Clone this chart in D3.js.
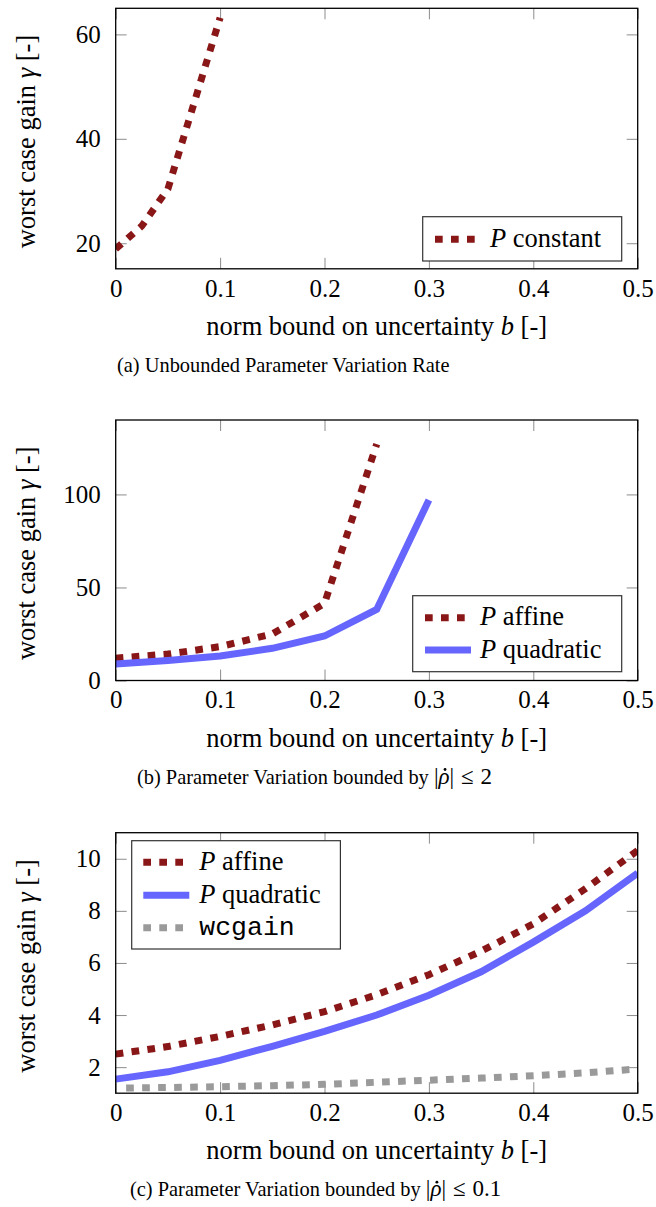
<!DOCTYPE html>
<html>
<head>
<meta charset="utf-8">
<script src="https://d3js.org/d3.v7.min.js"></script>
<style>
  body { margin: 0; background: #fff; }
  text { font-family: "Liberation Serif", "Times New Roman", serif; fill: #000; }
</style>
</head>
<body>
<script>
// values
var bTicks = [0, 0.1, 0.2, 0.3, 0.4, 0.5];

// (a) unbounded parameter variation rate
var bConstA = [0, 0.025, 0.05, 0.1];
var gammaConstA = [18.9, 23.3, 30.4, 63.2];
var yTicksA = [20, 40, 60];

// (b) |rho dot| <= 2
var bAffineB = [0, 0.05, 0.1, 0.15, 0.2, 0.25];
var gammaAffineB = [12, 14.2, 18.2, 25, 41.4, 127];
var bQuadB = [0, 0.05, 0.1, 0.15, 0.2, 0.25, 0.3];
var gammaQuadB = [8.9, 10.8, 13.2, 17.3, 23.9, 38.2, 97];
var yTicksB = [0, 50, 100];

// (c) |rho dot| <= 0.1
var bC = [0, 0.05, 0.1, 0.15, 0.2, 0.25, 0.3, 0.35, 0.4, 0.45, 0.5];
var gammaAffineC = [2.5, 2.79, 3.18, 3.62, 4.13, 4.78, 5.55, 6.45, 7.5, 8.85, 10.32];
var gammaQuadC = [1.54, 1.82, 2.26, 2.8, 3.37, 4.0, 4.76, 5.66, 6.8, 8.0, 9.45];
var bWcC = [0.01, 0.05, 0.1, 0.15, 0.2, 0.25, 0.3, 0.35, 0.4, 0.45, 0.5];
var gammaWcC = [1.2, 1.22, 1.25, 1.29, 1.34, 1.42, 1.5, 1.58, 1.67, 1.78, 1.93];
var yTicksC = [2, 4, 6, 8, 10];

// line styles
var red = "#8a1717", blue = "#6666ff", grey = "#9a9a9a";
var dots = "7.7,8.3";

// page layout
var left = 115.7, right = 637.7, plotH = 260.5;
var tickFont = 25, labelFont = 26.5, captionFont = 20.4, mathFont = 23;

var svg = d3.select("body").append("svg")
    .attr("width", 656)
    .attr("height", 1207);

svg.append("rect").attr("width", 656).attr("height", 1207).attr("fill", "#fff");

function zip(xs, ys) {
  return xs.map(function(d, i) { return [d, ys[i]]; });
}

function styleAxis(g) {
  g.select(".domain").remove();
  g.selectAll("line").attr("stroke", "#8c8c8c").attr("stroke-width", 1);
  g.selectAll("text")
      .attr("font-size", tickFont)
      .attr("fill", "#000");
}

// parts: [text, italic, family, dx, size, class]
function addLabel(text, parts) {
  parts.forEach(function(p) {
    var t = text.append("tspan").text(p[0]);
    if (p[1]) t.attr("font-style", "italic");
    if (p[2]) t.attr("font-family", p[2]);
    if (p[3]) t.attr("dx", p[3]);
    if (p[4]) t.attr("font-size", p[4]);
    if (p[5]) t.attr("class", p[5]);
  });
}

// |rho dot| <= bound, typeset a bit like TeX math
function rhoBound(bound) {
  return [
    ["|", false, null, null, mathFont],
    ["\u03c1", true, null, null, mathFont, "rho"],
    ["|", false, null, null, mathFont],
    ["\u2264", false, null, "0.3em", mathFont],
    [bound, false, null, "0.3em", mathFont]
  ];
}

function panel(id, top, yDomain, yTicks, series, legend, caption) {
  var x = d3.scaleLinear().domain([0, 0.5]).range([left, right]);
  var y = d3.scaleLinear().domain(yDomain).range([top + plotH, top]);
  var bottom = top + plotH;

  var g = svg.append("g");

  g.append("clipPath").attr("id", "clip" + id)
    .append("rect")
      .attr("x", left).attr("y", top)
      .attr("width", right - left).attr("height", plotH);

  // ticks on all four sides, pointing inwards
  g.append("g")
      .attr("transform", "translate(0," + bottom + ")")
      .call(d3.axisBottom(x).tickValues(bTicks).tickSize(-11).tickPadding(10)
        .tickFormat(function(d) { return String(d); }))
      .call(styleAxis);
  g.append("g")
      .attr("transform", "translate(0," + top + ")")
      .call(d3.axisTop(x).tickValues(bTicks).tickSize(-11).tickFormat(""))
      .call(styleAxis);
  g.append("g")
      .attr("transform", "translate(" + left + ",0)")
      .call(d3.axisLeft(y).tickValues(yTicks).tickSize(-11).tickPadding(15)
        .tickFormat(function(d) { return String(d); }))
      .call(styleAxis);
  g.append("g")
      .attr("transform", "translate(" + right + ",0)")
      .call(d3.axisRight(y).tickValues(yTicks).tickSize(-11).tickFormat(""))
      .call(styleAxis);

  var line = d3.line()
      .x(function(d) { return x(d[0]); })
      .y(function(d) { return y(d[1]); });

  var lines = g.append("g").attr("clip-path", "url(#clip" + id + ")");
  series.forEach(function(s) {
    lines.append("path")
        .datum(zip(s.b, s.gamma))
        .attr("fill", "none")
        .attr("stroke", s.color)
        .attr("stroke-width", 7)
        .attr("stroke-dasharray", s.dash)
        .attr("stroke-linejoin", "miter")
        .attr("d", line);
  });

  // frame
  g.append("rect")
      .attr("x", left).attr("y", top)
      .attr("width", right - left).attr("height", plotH)
      .attr("fill", "none")
      .attr("stroke", "#000")
      .attr("stroke-width", 1.3);

  // legend
  var lg = g.append("g");
  lg.append("rect")
      .attr("x", legend.x).attr("y", legend.y)
      .attr("width", legend.w).attr("height", legend.h)
      .attr("fill", "#fff")
      .attr("stroke", "#333")
      .attr("stroke-width", 1.2);
  series.forEach(function(s, i) {
    var ly = legend.rows[i];
    lg.append("line")
        .attr("x1", legend.sx).attr("x2", legend.sx + 46)
        .attr("y1", ly).attr("y2", ly)
        .attr("stroke", s.color)
        .attr("stroke-width", 7)
        .attr("stroke-dasharray", s.dash);
    var t = lg.append("text")
        .attr("x", legend.tx)
        .attr("y", ly + 7.5)
        .attr("font-size", labelFont);
    addLabel(t, s.label);
  });

  // axis titles
  var xt = g.append("text")
      .attr("x", (left + right) / 2)
      .attr("y", bottom + 66)
      .attr("text-anchor", "middle")
      .attr("font-size", labelFont);
  addLabel(xt, [["norm bound on uncertainty "], ["b", true], [" [-]"]]);

  var yt = g.append("text")
      .attr("transform", "translate(35," + (top + plotH / 2 + 3) + ") rotate(-90)")
      .attr("text-anchor", "middle")
      .attr("font-size", labelFont);
  addLabel(yt, [["worst case gain "], ["\u03b3", true], [" [-]"]]);

  var ct = g.append("text")
      .attr("x", caption.x)
      .attr("y", bottom + 103)
      .attr("font-size", captionFont);
  addLabel(ct, caption.parts);

  // dot accent over rho
  var rho = ct.select(".rho").node();
  if (rho) {
    var bb = rho.getBBox();
    g.append("circle")
        .attr("cx", bb.x + bb.width / 2 + 1.5)
        .attr("cy", bottom + 103 - 14)
        .attr("r", 1.4)
        .attr("fill", "#000");
  }
}

panel("a", 8.3, [15.1, 65], yTicksA,
  [{b: bConstA, gamma: gammaConstA, color: red, dash: dots,
    label: [["P", true], [" constant"]]}],
  {x: 422.7, y: 216.7, w: 199, h: 44.3, sx: 435, tx: 490, rows: [239.3]},
  {x: 117, parts: [["(a) Unbounded Parameter Variation Rate"]]});

panel("b", 420, [0, 140], yTicksB,
  [{b: bAffineB, gamma: gammaAffineB, color: red, dash: dots,
    label: [["P", true], [" affine"]]},
   {b: bQuadB, gamma: gammaQuadB, color: blue, dash: null,
    label: [["P", true], [" quadratic"]]}],
  {x: 412.7, y: 595.7, w: 209, h: 76, sx: 425, tx: 480, rows: [617.7, 650]},
  {x: 137, parts: [["(b) Parameter Variation bounded by "]].concat(rhoBound("2"))});

panel("c", 832.7, [1, 11], yTicksC,
  [{b: bC, gamma: gammaAffineC, color: red, dash: dots,
    label: [["P", true], [" affine"]]},
   {b: bC, gamma: gammaQuadC, color: blue, dash: null,
    label: [["P", true], [" quadratic"]]},
   {b: bWcC, gamma: gammaWcC, color: grey, dash: dots,
    label: [["wcgain", false, "Liberation Mono"]]}],
  {x: 131.7, y: 840.7, w: 208.7, h: 108.3, sx: 143.3, tx: 199.3, rows: [862.3, 895.3, 927.7]},
  {x: 130, parts: [["(c) Parameter Variation bounded by "]].concat(rhoBound("0.1"))});
</script>
</body>
</html>
